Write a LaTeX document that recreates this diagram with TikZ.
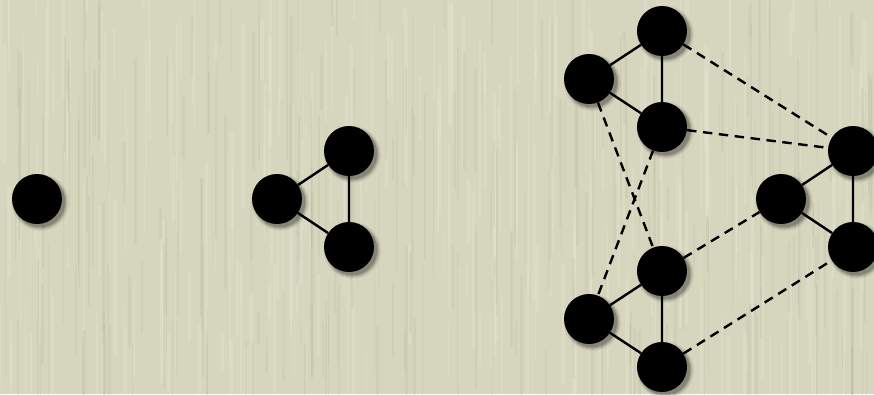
\documentclass[tikz,border=0pt]{standalone}
\usetikzlibrary{shadows}
\pgfdeclarelayer{paper}
\pgfdeclarelayer{edges}
\pgfsetlayers{paper,edges,main}
\definecolor{paperbg}{RGB}{214,214,190}
\tikzset{
  vertex/.style={circle, fill=black, minimum size=50pt, inner sep=0pt,
    general shadow={fill=black, opacity=0.06, shadow scale=1.14,
      shadow xshift=3pt, shadow yshift=-3pt},
    general shadow={fill=black, opacity=0.09, shadow scale=1.09,
      shadow xshift=3pt, shadow yshift=-3pt},
    general shadow={fill=black, opacity=0.12, shadow scale=1.05,
      shadow xshift=3pt, shadow yshift=-3pt},
    general shadow={fill=black, opacity=0.16, shadow scale=1.01,
      shadow xshift=3pt, shadow yshift=-3pt}},
  tie/.style={line width=2.4pt},
  link/.style={line width=2.4pt, dash pattern=on 9.5pt off 6.5pt},
}
\begin{document}
\begin{tikzpicture}[x=1pt,y=-1pt]
\useasboundingbox (0,0) rectangle (874,394);

% paper texture: flat tint with faint vertical fibres
\begin{pgfonlayer}{paper}
  \fill[paperbg] (0,0) rectangle (874,394);
  \pgfmathsetseed{11}
  \foreach \i in {1,...,300}{
    \pgfmathsetmacro\xx{rnd*874}
    \pgfmathsetmacro\yy{rnd*394-40}
    \pgfmathsetmacro\ll{30+rnd*160}
    \pgfmathsetmacro\ww{1+rnd*2.5}
    \draw[white, opacity=0.11, line width=\ww pt] (\xx,\yy) -- ++(0,\ll);
  }
  \foreach \i in {1,...,240}{
    \pgfmathsetmacro\xx{rnd*874}
    \pgfmathsetmacro\yy{rnd*394-40}
    \pgfmathsetmacro\ll{30+rnd*160}
    \pgfmathsetmacro\ww{1+rnd*2}
    \draw[black!60!olive, opacity=0.05, line width=\ww pt] (\xx,\yy) -- ++(0,\ll);
  }
\end{pgfonlayer}

% a single vertex
\node[vertex] (s) at (37,199) {};

% one triangle
\node[vertex] (tl) at (277,199) {};
\node[vertex] (tt) at (349,151) {};
\node[vertex] (tb) at (349,247) {};

% three triangles joined by dashed links
\node[vertex] (al) at (589,79) {};
\node[vertex] (at) at (662,31) {};
\node[vertex] (ab) at (662,127) {};

\node[vertex] (bl) at (781,199) {};
\node[vertex] (bt) at (853,151) {};
\node[vertex] (bb) at (853,247) {};

\node[vertex] (cl) at (589,319) {};
\node[vertex] (ct) at (662,271) {};
\node[vertex] (cb) at (662,367) {};

\begin{pgfonlayer}{edges}
  \draw[tie] (tl) -- (tt) -- (tb) -- (tl);
  \draw[tie] (al) -- (at) -- (ab) -- (al);
  \draw[tie] (bl) -- (bt) -- (bb) -- (bl);
  \draw[tie] (cl) -- (ct) -- (cb) -- (cl);

  \draw[link] (at) -- (bt);
  \draw[link] (ab) -- (bt);
  \draw[link] (al) -- (ct);
  \draw[link] (ab) -- (cl);
  \draw[link] (ct) -- (bl);
  \draw[link] (cb) -- (bb);
\end{pgfonlayer}
\end{tikzpicture}
\end{document}
